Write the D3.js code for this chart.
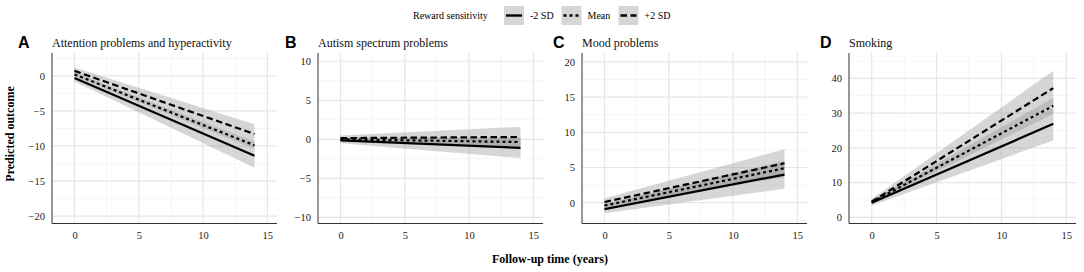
<!DOCTYPE html>
<html>
<head>
<meta charset="utf-8">
<script src="https://cdn.jsdelivr.net/npm/d3@7"></script>
<style>
  body { margin: 0; background: #fff; }
  svg { display: block; }
</style>
</head>
<body>
<div id="chart"></div>
<script>
// groups (rows of every array below follow this order)
const groups = ["-2 SD", "Mean", "+2 SD"];
const dashes = ["none", "3,3", "6.5,3.5"];
const time = [0, 14];
const xTicks = [0, 5, 10, 15];

const letters = ["A", "B", "C", "D"];
const titles = ["Attention problems and hyperactivity", "Autism spectrum problems", "Mood problems", "Smoking"];
const yTicks = [
  [-20, -15, -10, -5, 0],
  [-10, -5, 0, 5, 10],
  [0, 5, 10, 15, 20],
  [0, 10, 20, 30, 40]
];

// predicted values at time 0 and 14, with CI
const attnFit  = [[-0.3, -11.4], [0.2, -9.9], [0.7, -8.3]];
const attnLow  = [[-0.8, -13.1], [-0.05, -10.4], [0.2, -9.7]];
const attnHigh = [[0.2, -9.8], [0.45, -9.4], [1.2, -6.9]];

const autFit  = [[-0.15, -1.1], [0, -0.35], [0.15, 0.3]];
const autLow  = [[-0.5, -2.4], [-0.2, -0.9], [-0.2, -1.0]];
const autHigh = [[0.2, 0.2], [0.2, 0.2], [0.5, 1.6]];

const moodFit  = [[-0.9, 4.0], [-0.4, 4.9], [0.1, 5.6]];
const moodLow  = [[-1.5, 2.0], [-0.7, 4.1], [-0.45, 3.6]];
const moodHigh = [[-0.3, 6.0], [-0.1, 5.7], [0.65, 7.6]];

const smokeFit  = [[4.2, 26.9], [4.35, 32.1], [4.5, 37.2]];
const smokeLow  = [[3.4, 22.1], [3.9, 29.8], [3.7, 32.3]];
const smokeHigh = [[5.0, 31.7], [4.8, 34.4], [5.3, 42.2]];

const fits  = [attnFit, autFit, moodFit, smokeFit];
const lows  = [attnLow, autLow, moodLow, smokeLow];
const highs = [attnHigh, autHigh, moodHigh, smokeHigh];

// panel layout (pixels) and axis ranges
const layout = [
  { left: 52,  right: 277,  letterX: 18,  yDomain: [-21.05, 3.25] },
  { left: 318, right: 543,  letterX: 285, yDomain: [-10.79, 11.06] },
  { left: 582, right: 807,  letterX: 553, yDomain: [-2.95, 21.26] },
  { left: 849, right: 1076, letterX: 820, yDomain: [-1.79, 47.3] }
];
const plotTop = 53, plotBottom = 223.5;
const xDomain = [-1.75, 15.75];

const serif = "'Liberation Serif', 'Times New Roman', serif";
const sans = "'Liberation Sans', Arial, sans-serif";

const svg = d3.select("#chart").append("svg")
  .attr("width", 1084)
  .attr("height", 272);

svg.append("rect").attr("width", 1084).attr("height", 272).attr("fill", "#fff");

layout.forEach((p, i) => {
  const x = d3.scaleLinear().domain(xDomain).range([p.left, p.right]);
  const y = d3.scaleLinear().domain(p.yDomain).range([plotBottom, plotTop]);
  const g = svg.append("g");

  // minor grid (midpoints between breaks)
  const yStep = yTicks[i][1] - yTicks[i][0];
  const yMinor = d3.range(yTicks[i][0] - yStep / 2, p.yDomain[1], yStep)
    .filter(v => v > p.yDomain[0] && v < p.yDomain[1]);
  const xMinor = d3.range(-2.5, xDomain[1], 5).filter(v => v > xDomain[0]);

  g.selectAll(".ymin").data(yMinor).enter().append("line")
    .attr("x1", p.left).attr("x2", p.right)
    .attr("y1", d => y(d)).attr("y2", d => y(d))
    .attr("stroke", "#f0f0f0").attr("stroke-width", 0.7);
  g.selectAll(".xmin").data(xMinor).enter().append("line")
    .attr("x1", d => x(d)).attr("x2", d => x(d))
    .attr("y1", plotTop).attr("y2", plotBottom)
    .attr("stroke", "#f0f0f0").attr("stroke-width", 0.7);

  // major grid
  g.selectAll(".ymaj").data(yTicks[i]).enter().append("line")
    .attr("x1", p.left).attr("x2", p.right)
    .attr("y1", d => y(d)).attr("y2", d => y(d))
    .attr("stroke", "#e6e6e6").attr("stroke-width", 1.2);
  g.selectAll(".xmaj").data(xTicks).enter().append("line")
    .attr("x1", d => x(d)).attr("x2", d => x(d))
    .attr("y1", plotTop).attr("y2", plotBottom)
    .attr("stroke", "#e6e6e6").attr("stroke-width", 1.2);

  // ribbons
  groups.forEach((grp, k) => {
    const area = d3.area()
      .x((d, j) => x(time[j]))
      .y0((d, j) => y(lows[i][k][j]))
      .y1((d, j) => y(highs[i][k][j]));
    g.append("path")
      .attr("d", area(time))
      .attr("fill", "#999")
      .attr("fill-opacity", 0.4);
  });

  // lines
  groups.forEach((grp, k) => {
    const line = d3.line()
      .x((d, j) => x(time[j]))
      .y((d, j) => y(fits[i][k][j]));
    g.append("path")
      .attr("d", line(time))
      .attr("fill", "none")
      .attr("stroke", "#000")
      .attr("stroke-width", 2.2)
      .attr("stroke-dasharray", dashes[k]);
  });

  // axes
  const ax = g.append("g")
    .attr("transform", `translate(0,${plotBottom})`)
    .call(d3.axisBottom(x).tickValues(xTicks).tickSize(0).tickPadding(8));
  const ay = g.append("g")
    .attr("transform", `translate(${p.left},0)`)
    .call(d3.axisLeft(y).tickValues(yTicks[i]).tickSize(0).tickPadding(7));
  [ax, ay].forEach(a => {
    a.select(".domain").remove();
    a.selectAll("text")
      .attr("font-family", serif)
      .attr("font-size", 10.5)
      .attr("fill", "#222");
  });
  g.append("line")
    .attr("x1", p.left).attr("x2", p.left)
    .attr("y1", plotTop).attr("y2", plotBottom)
    .attr("stroke", "#333").attr("stroke-width", 1);
  g.append("line")
    .attr("x1", p.left).attr("x2", p.right)
    .attr("y1", plotBottom).attr("y2", plotBottom)
    .attr("stroke", "#333").attr("stroke-width", 1);

  // titles
  g.append("text")
    .attr("x", p.left).attr("y", 47)
    .attr("font-family", serif).attr("font-size", 12)
    .attr("fill", "#111")
    .text(titles[i]);
  g.append("text")
    .attr("x", p.letterX).attr("y", 48)
    .attr("font-family", sans).attr("font-size", 16).attr("font-weight", "bold")
    .text(letters[i]);
});

// axis titles
svg.append("text")
  .attr("transform", "translate(14,134) rotate(-90)")
  .attr("text-anchor", "middle")
  .attr("font-family", serif).attr("font-size", 12).attr("font-weight", "bold")
  .text("Predicted outcome");
svg.append("text")
  .attr("x", 550).attr("y", 263)
  .attr("text-anchor", "middle")
  .attr("font-family", serif).attr("font-size", 12).attr("font-weight", "bold")
  .text("Follow-up time (years)");

// legend
const legend = svg.append("g");
legend.append("text")
  .attr("x", 413).attr("y", 19)
  .attr("font-family", serif).attr("font-size", 10)
  .text("Reward sensitivity");
const keyX = [504, 561.5, 618.5];
groups.forEach((grp, k) => {
  legend.append("rect")
    .attr("x", keyX[k]).attr("y", 6)
    .attr("width", 20).attr("height", 19)
    .attr("fill", "#999").attr("fill-opacity", 0.4);
  legend.append("line")
    .attr("x1", keyX[k] + 2).attr("x2", keyX[k] + 18)
    .attr("y1", 15.5).attr("y2", 15.5)
    .attr("stroke", "#000").attr("stroke-width", 2.4)
    .attr("stroke-dasharray", dashes[k]);
  legend.append("text")
    .attr("x", keyX[k] + 26).attr("y", 19)
    .attr("font-family", serif).attr("font-size", 10)
    .text(grp);
});
</script>
</body>
</html>
